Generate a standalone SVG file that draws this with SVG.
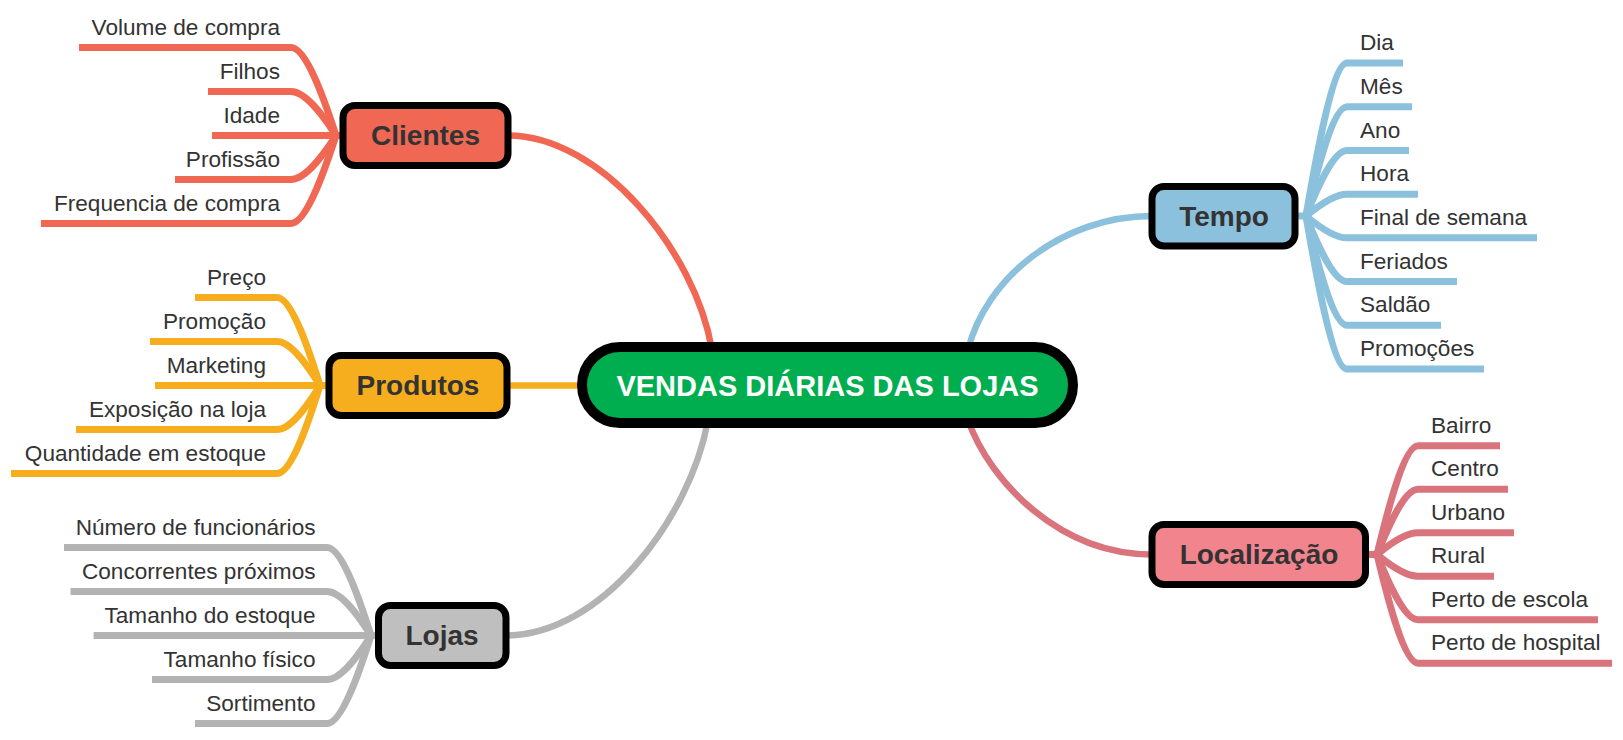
<svg xmlns="http://www.w3.org/2000/svg" width="1623" height="740" viewBox="0 0 1623 740">
<style>
.c{fill:none;stroke-width:7;stroke-linecap:butt}
.m{fill:none;stroke-width:6.5}
.red{stroke:#F06853}.org{stroke:#F7AE1E}.gry{stroke:#B3B3B3}.blu{stroke:#8BC1DC}.pnk{stroke:#D9737C}
.box{stroke:#000;stroke-width:7}
.bt{font-family:"Liberation Sans",Arial,sans-serif;font-weight:bold;font-size:28px;fill:#333;text-anchor:middle}
.lt{font-family:"Liberation Sans",Arial,sans-serif;font-size:22.6px;fill:#333}
.le{text-anchor:end}
</style>
<rect width="1623" height="740" fill="#fff"/>
<g id="connectors">
<path class="m red" d="M 508 135.5 C 600 135.5 695 250 712 350"/>
<path class="m org" d="M 507 385.5 H 590"/>
<path class="m gry" d="M 506 635.5 C 600 635.5 690 520 708 420"/>
<path class="m blu" d="M 1152 216 C 1060 216 985 280 968 350"/>
<path class="m pnk" d="M 968 420 C 990 482 1060 554.5 1152 554.5"/>
<!-- Clientes leaves -->
<path class="c red" d="M 79 47.6 H 291 C 308.1 47.6 329.3 115.3 336 135.5"/>
<path class="c red" d="M 208 91.6 H 291 C 308.1 91.6 329.3 125.4 336 135.5"/>
<path class="c red" d="M 212 135.5 H 344"/>
<path class="c red" d="M 175 179.4 H 291 C 308.1 179.4 329.3 145.6 336 135.5"/>
<path class="c red" d="M 41 223.4 H 291 C 308.1 223.4 329.3 155.7 336 135.5"/>
<!-- Produtos leaves -->
<path class="c org" d="M 195 297.5 H 277 C 293.3 297.5 313.5 365.3 320 385.5"/>
<path class="c org" d="M 150 341.5 H 277 C 293.3 341.5 313.5 375.4 320 385.5"/>
<path class="c org" d="M 155 385.5 H 330"/>
<path class="c org" d="M 76 429.5 H 277 C 293.3 429.5 313.5 395.6 320 385.5"/>
<path class="c org" d="M 11 473.5 H 277 C 293.3 473.5 313.5 405.7 320 385.5"/>
<!-- Lojas leaves -->
<path class="c gry" d="M 64 547.5 H 327 C 343.7 547.5 364.4 615.3 371 635.5"/>
<path class="c gry" d="M 70.5 591.5 H 327 C 343.7 591.5 364.4 625.4 371 635.5"/>
<path class="c gry" d="M 93.6 635.5 H 379"/>
<path class="c gry" d="M 152 679.5 H 327 C 343.7 679.5 364.4 645.6 371 635.5"/>
<path class="c gry" d="M 195 723.5 H 327 C 343.7 723.5 364.4 655.7 371 635.5"/>
<!-- Tempo leaves -->
<path class="c blu" d="M 1294 216 H 1306 C 1312.2 180.8 1331.4 63.05 1347 63.05 H 1403"/>
<path class="c blu" d="M 1306 216 C 1312.2 190.9 1331.4 106.75 1347 106.75 H 1412"/>
<path class="c blu" d="M 1306 216 C 1312.2 200.9 1331.4 150.45 1347 150.45 H 1409"/>
<path class="c blu" d="M 1306 216 C 1312.2 211 1331.4 194.15 1347 194.15 H 1418"/>
<path class="c blu" d="M 1306 216 C 1312.2 221 1331.4 237.85 1347 237.85 H 1537"/>
<path class="c blu" d="M 1306 216 C 1312.2 231.1 1331.4 281.55 1347 281.55 H 1457"/>
<path class="c blu" d="M 1306 216 C 1312.2 241.1 1331.4 325.25 1347 325.25 H 1441"/>
<path class="c blu" d="M 1306 216 C 1312.2 251.2 1331.4 368.95 1347 368.95 H 1484"/>
<!-- Localizacao leaves -->
<path class="c pnk" d="M 1365 554.5 H 1377 C 1383.2 529.5 1402.4 445.75 1418 445.75 H 1500"/>
<path class="c pnk" d="M 1377 554.5 C 1383.2 539.5 1402.4 489.25 1418 489.25 H 1508"/>
<path class="c pnk" d="M 1377 554.5 C 1383.2 549.5 1402.4 532.75 1418 532.75 H 1514"/>
<path class="c pnk" d="M 1377 554.5 C 1383.2 559.5 1402.4 576.25 1418 576.25 H 1494"/>
<path class="c pnk" d="M 1377 554.5 C 1383.2 569.5 1402.4 619.75 1418 619.75 H 1598"/>
<path class="c pnk" d="M 1377 554.5 C 1383.2 579.5 1402.4 663.25 1418 663.25 H 1612"/>
</g>
<g id="central">
<rect x="582" y="347" width="491" height="76" rx="38" fill="#00AE50" stroke="#000" stroke-width="10"/>
<text x="827.5" y="395.5" class="bt" style="fill:#fff;font-size:29px">VENDAS DIÁRIAS DAS LOJAS</text>
</g>
<g id="clientes">
<rect class="box" x="343" y="105.5" width="165" height="60" rx="12" fill="#F06853"/>
<text class="bt" x="425.5" y="145">Clientes</text>
</g>
<g id="produtos">
<rect class="box" x="329" y="355.5" width="178" height="60" rx="12" fill="#F7AE1E"/>
<text class="bt" x="418" y="395">Produtos</text>
</g>
<g id="lojas">
<rect class="box" x="378.5" y="605.5" width="127.5" height="60" rx="12" fill="#BFBFBF"/>
<text class="bt" x="442" y="645">Lojas</text>
</g>
<g id="tempo">
<rect class="box" x="1152" y="186.5" width="143" height="59.5" rx="12" fill="#8BC1DC"/>
<text class="bt" x="1224" y="226">Tempo</text>
</g>
<g id="localizacao">
<rect class="box" x="1152" y="524.5" width="213.5" height="60" rx="12" fill="#F2848E"/>
<text class="bt" x="1259" y="564">Localização</text>
</g>
<g id="clientes-leaves">
<g id="c1"><text class="lt le" x="280" y="35">Volume de compra</text></g>
<g id="c2"><text class="lt le" x="280" y="79">Filhos</text></g>
<g id="c3"><text class="lt le" x="280" y="123">Idade</text></g>
<g id="c4"><text class="lt le" x="280" y="167">Profissão</text></g>
<g id="c5"><text class="lt le" x="280" y="211">Frequencia de compra</text></g>
</g>
<g id="produtos-leaves">
<g id="p1"><text class="lt le" x="266" y="285">Preço</text></g>
<g id="p2"><text class="lt le" x="266" y="329">Promoção</text></g>
<g id="p3"><text class="lt le" x="266" y="373">Marketing</text></g>
<g id="p4"><text class="lt le" x="266" y="417">Exposição na loja</text></g>
<g id="p5"><text class="lt le" x="266" y="461">Quantidade em estoque</text></g>
</g>
<g id="lojas-leaves">
<g id="l1"><text class="lt le" x="315.5" y="535">Número de funcionários</text></g>
<g id="l2"><text class="lt le" x="315.5" y="579">Concorrentes próximos</text></g>
<g id="l3"><text class="lt le" x="315.5" y="623">Tamanho do estoque</text></g>
<g id="l4"><text class="lt le" x="315.5" y="667">Tamanho físico</text></g>
<g id="l5"><text class="lt le" x="315.5" y="711">Sortimento</text></g>
</g>
<g id="tempo-leaves">
<g id="t1"><text class="lt" x="1360" y="50">Dia</text></g>
<g id="t2"><text class="lt" x="1360" y="94">Mês</text></g>
<g id="t3"><text class="lt" x="1360" y="138">Ano</text></g>
<g id="t4"><text class="lt" x="1360" y="181">Hora</text></g>
<g id="t5"><text class="lt" x="1360" y="225">Final de semana</text></g>
<g id="t6"><text class="lt" x="1360" y="269">Feriados</text></g>
<g id="t7"><text class="lt" x="1360" y="312">Saldão</text></g>
<g id="t8"><text class="lt" x="1360" y="356">Promoções</text></g>
</g>
<g id="localizacao-leaves">
<g id="g1"><text class="lt" x="1431" y="433">Bairro</text></g>
<g id="g2"><text class="lt" x="1431" y="476">Centro</text></g>
<g id="g3"><text class="lt" x="1431" y="520">Urbano</text></g>
<g id="g4"><text class="lt" x="1431" y="563">Rural</text></g>
<g id="g5"><text class="lt" x="1431" y="607">Perto de escola</text></g>
<g id="g6"><text class="lt" x="1431" y="650">Perto de hospital</text></g>
</g>
</svg>
